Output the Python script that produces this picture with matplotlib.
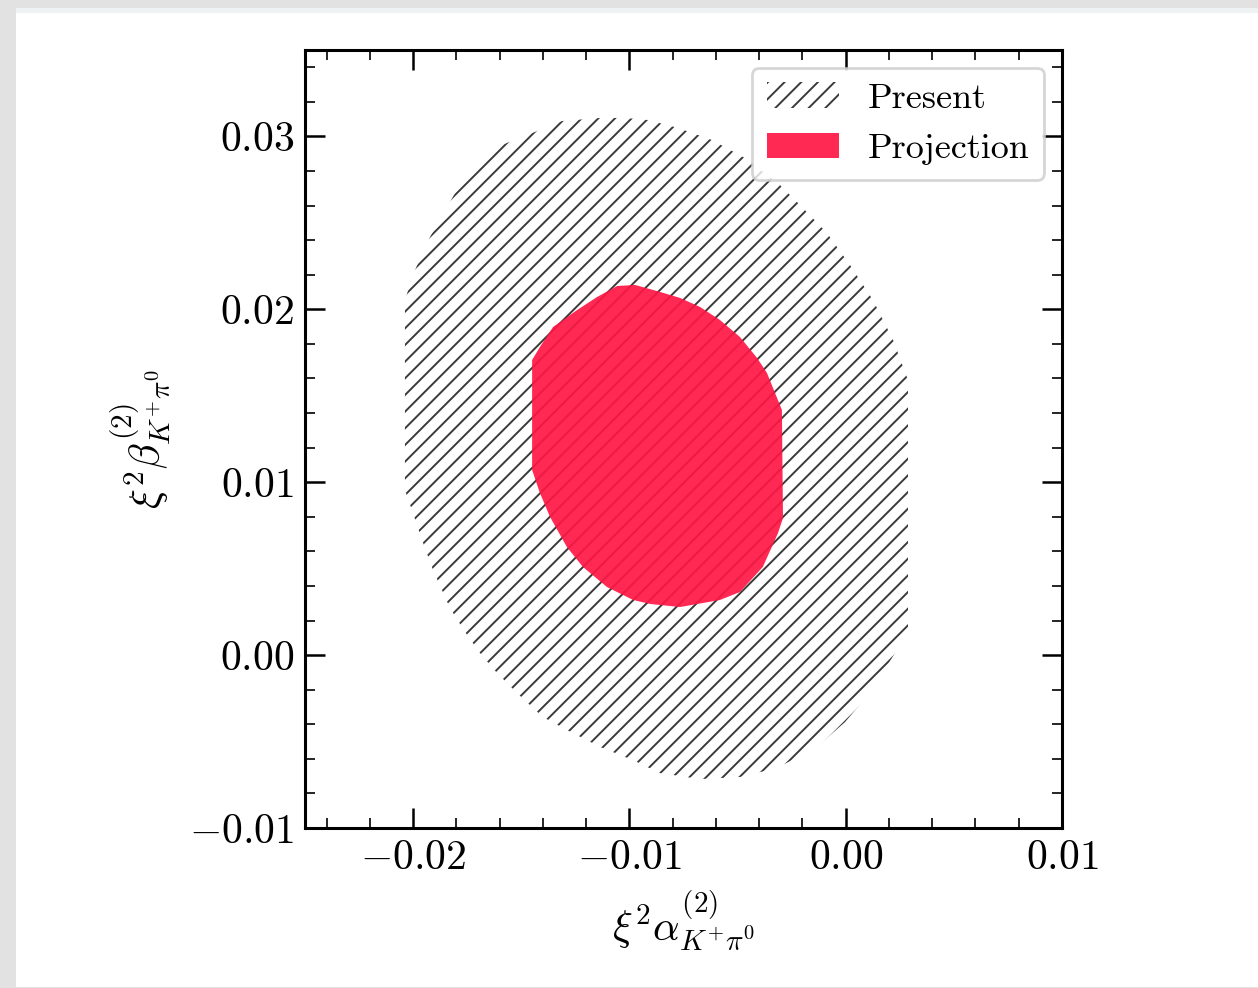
import matplotlib
matplotlib.use("Agg")
import matplotlib.pyplot as plt
from matplotlib.patches import Polygon, Rectangle
from matplotlib.ticker import MultipleLocator

# ---------------- data ----------------
present_x = [-0.02038, -0.01991, -0.01922, -0.01806, -0.01589, -0.01437, -0.01312, -0.01136,
             -0.01020, -0.00914, -0.00775, -0.00618, -0.00466, -0.00304, -0.00211, -0.00087,
             0.00020, 0.00126, 0.00219, 0.00288, 0.00288, 0.00237, 0.00112, -0.00003,
             -0.00133, -0.00318, -0.00489, -0.00674, -0.00859, -0.00984, -0.01136, -0.01289,
             -0.01400, -0.01520, -0.01612, -0.01691, -0.01760, -0.01830, -0.01908, -0.01954,
             -0.02001, -0.02038]
present_y = [0.02054, 0.02228, 0.02418, 0.02673, 0.02951, 0.03026, 0.03089, 0.03107,
             0.03107, 0.03095, 0.03049, 0.02979, 0.02875, 0.02719, 0.02603, 0.02442,
             0.02256, 0.02054, 0.01823, 0.01591, 0.00145, 0.00030, -0.00219, -0.00387,
             -0.00531, -0.00653, -0.00705, -0.00717, -0.00682, -0.00607, -0.00531, -0.00433,
             -0.00358, -0.00219, -0.00103, 0.00012, 0.00134, 0.00273, 0.00492, 0.00649,
             0.00822, 0.00955]

proj_x = [-0.01057, -0.00974, -0.00873, -0.00766, -0.00674, -0.00581, -0.00489, -0.00410,
          -0.00364, -0.00295, -0.00290, -0.00313, -0.00383, -0.00489, -0.00581, -0.00766,
          -0.00905, -0.00983, -0.01104, -0.01215, -0.01289, -0.01367, -0.01414, -0.01450,
          -0.01450, -0.01414, -0.01353, -0.01242, -0.01150]
proj_y = [0.02135, 0.02141, 0.02106, 0.02066, 0.02014, 0.01938, 0.01840, 0.01719,
          0.01632, 0.01418, 0.00793, 0.00706, 0.00510, 0.00365, 0.00319, 0.00278,
          0.00296, 0.00319, 0.00394, 0.00510, 0.00625, 0.00799, 0.00938, 0.01071,
          0.01707, 0.01782, 0.01898, 0.01996, 0.02071]

x_ticks = [-0.02, -0.01, 0.00, 0.01]
x_tick_labels = [r"$-0.02$", r"$-0.01$", r"$0.00$", r"$0.01$"]
y_ticks = [-0.01, 0.00, 0.01, 0.02, 0.03]
y_tick_labels = [r"$-0.01$", r"$0.00$", r"$0.01$", r"$0.02$", r"$0.03$"]
series_labels = ["Present", "Projection"]

# ---------------- style ----------------
plt.rcParams["font.family"] = "serif"
plt.rcParams["font.serif"] = ["cmr10", "DejaVu Serif"]
plt.rcParams["mathtext.fontset"] = "cm"
plt.rcParams["axes.formatter.use_mathtext"] = True
plt.rcParams["hatch.linewidth"] = 1.4

fig = plt.figure(figsize=(12.58, 9.88), dpi=100)
fig.patch.set_facecolor("#e2e2e2")
W, H = 1258.0, 988.0
fig.patches.append(Rectangle((16 / W, 1 / H), 1 - 16 / W, 1 - 8 / H - 1 / H,
                             transform=fig.transFigure, facecolor="#eef2f2",
                             edgecolor="none", zorder=-10))
fig.patches.append(Rectangle((16 / W, 1 / H), 1 - 16 / W, 1 - 13 / H - 1 / H,
                             transform=fig.transFigure, facecolor="white",
                             edgecolor="none", zorder=-9))

ax = fig.add_axes([305 / W, 1 - 828 / H, (1062 - 305) / W, (828 - 50) / H])
ax.set_facecolor("white")

present = Polygon(list(zip(present_x, present_y)), closed=True, facecolor="none",
                  edgecolor="#3a3a3a", linewidth=0, hatch="//", label=series_labels[0],
                  zorder=1)
ax.add_patch(present)
proj = Polygon(list(zip(proj_x, proj_y)), closed=True, facecolor="#ff1744",
               edgecolor="none", alpha=0.92, label=series_labels[1], zorder=2)
ax.add_patch(proj)

ax.set_xlim(-0.025, 0.01)
ax.set_ylim(-0.01, 0.035)
ax.set_xticks(x_ticks, x_tick_labels)
ax.set_yticks(y_ticks, y_tick_labels)
ax.xaxis.set_minor_locator(MultipleLocator(0.002))
ax.yaxis.set_minor_locator(MultipleLocator(0.002))
ax.tick_params(which="both", direction="in", top=True, right=True, labelsize=30)
ax.tick_params(which="major", length=14.4, width=1.8, pad=8)
ax.tick_params(which="minor", length=7.2, width=1.2)
for s in ax.spines.values():
    s.set_linewidth(2.2)

ax.set_xlabel(r"$\xi^2\alpha^{(2)}_{K^{+}\pi^{0}}$", fontsize=30, labelpad=8)
ax.set_ylabel(r"$\xi^2\beta^{(2)}_{K^{+}\pi^{0}}$", fontsize=30, labelpad=12)

leg = ax.legend(loc="upper right", fontsize=26, fancybox=True, framealpha=0.8,
                edgecolor="0.8")
leg.get_frame().set_linewidth(2.0)

fig.savefig("out.png", dpi=100, facecolor=fig.get_facecolor())
